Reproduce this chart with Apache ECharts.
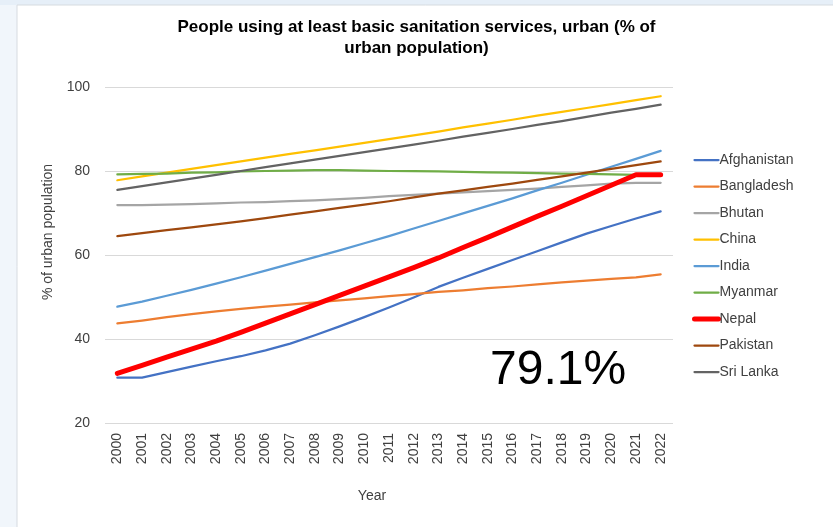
<!DOCTYPE html>
<html>
<head>
<meta charset="utf-8">
<script src="https://cdn.jsdelivr.net/npm/echarts@6/dist/echarts.min.js"></script>
<style>
  html, body { margin: 0; padding: 0; background: #f1f6fb; }
  #chart { width: 833px; height: 527px; }
</style>
</head>
<body>
<div id="chart"></div>
<script>
const years = ['2000','2001','2002','2003','2004','2005','2006','2007','2008','2009','2010','2011','2012','2013','2014','2015','2016','2017','2018','2019','2020','2021','2022'];
const yTicks = [20, 40, 60, 80, 100];

const afghanistan = [30.8,30.8,32.1,33.4,34.7,35.9,37.3,38.9,40.9,43.0,45.2,47.5,49.9,52.4,54.6,56.7,58.8,60.9,63.0,65.1,66.9,68.7,70.4];
const bangladesh  = [43.7,44.4,45.2,45.9,46.6,47.2,47.7,48.2,48.7,49.2,49.7,50.2,50.7,51.2,51.6,52.1,52.5,53.0,53.5,53.9,54.3,54.7,55.4];
const bhutan      = [71.9,71.9,72.0,72.1,72.3,72.5,72.6,72.8,73.0,73.3,73.6,74.0,74.3,74.6,74.9,75.2,75.5,75.8,76.2,76.6,77.0,77.2,77.2];
const china       = [77.8,78.7,79.6,80.5,81.4,82.3,83.2,84.1,84.9,85.8,86.7,87.6,88.5,89.4,90.4,91.3,92.2,93.2,94.1,95.0,95.9,96.9,97.8];
const india       = [47.7,48.9,50.3,51.7,53.2,54.7,56.3,57.9,59.5,61.1,62.8,64.5,66.3,68.1,69.9,71.7,73.5,75.4,77.2,79.1,81.0,82.9,84.8];
const myanmar     = [79.2,79.3,79.4,79.6,79.7,79.9,80.0,80.1,80.2,80.2,80.1,80.0,80.0,79.9,79.8,79.7,79.6,79.5,79.4,79.3,79.2,79.1,79.1];
const nepal       = [31.8,33.7,35.7,37.6,39.5,41.6,43.8,46.0,48.2,50.4,52.6,54.8,57.0,59.3,61.8,64.2,66.7,69.2,71.6,74.1,76.6,79.1,79.1];
const pakistan    = [64.5,65.2,65.9,66.6,67.3,68.0,68.8,69.6,70.4,71.2,72.0,72.8,73.7,74.6,75.4,76.2,77.0,77.9,78.7,79.6,80.5,81.4,82.3];
const sriLanka    = [75.5,76.4,77.3,78.2,79.1,80.0,80.9,81.8,82.7,83.6,84.5,85.4,86.3,87.2,88.2,89.1,90.0,91.0,91.9,92.9,93.9,94.8,95.8];

const seriesDefs = [
  ['Afghanistan', afghanistan, '#4472C4', 2.25],
  ['Bangladesh', bangladesh, '#ED7D31', 2.25],
  ['Bhutan', bhutan, '#A5A5A5', 2.25],
  ['China', china, '#FFC000', 2.25],
  ['India', india, '#5B9BD5', 2.25],
  ['Myanmar', myanmar, '#70AD47', 2.25],
  ['Nepal', nepal, '#FF0000', 5],
  ['Pakistan', pakistan, '#9E480E', 2.25],
  ['Sri Lanka', sriLanka, '#636363', 2.25]
];

const font = 'Liberation Sans, Arial, sans-serif';
const chart = echarts.init(document.getElementById('chart'), null, {renderer: 'canvas'});

chart.setOption({
  animation: false,
  backgroundColor: 'transparent',
  textStyle: { fontFamily: font },
  graphic: [
    { type: 'rect', z: -10, silent: true, shape: { x: 17, y: 5, width: 830, height: 540 },
      style: { fill: '#ffffff', stroke: '#d6dbe0', lineWidth: 1 } },
    { type: 'rect', z: -11, silent: true, shape: { x: 0, y: 0, width: 833, height: 5 },
      style: { fill: '#e6eff8' } },
    { type: 'text', left: 490, top: 347, z: 10,
      style: { text: '79.1%', fontSize: 48, fontFamily: font, fill: '#000000' } },
    { type: 'text', x: 48, y: 232, rotation: Math.PI / 2, z: 10,
      style: { text: '% of urban population', fontSize: 14, fontFamily: font, fill: '#404040',
               align: 'center', verticalAlign: 'middle' } },
    { type: 'text', x: 372, y: 496, z: 10,
      style: { text: 'Year', fontSize: 14, fontFamily: font, fill: '#404040',
               align: 'center', verticalAlign: 'middle' } }
  ],
  title: {
    text: 'People using at least basic sanitation services, urban (% of\nurban population)',
    left: 'center',
    top: 12,
    textStyle: { fontSize: 17, fontWeight: 'bold', color: '#000000', fontFamily: font, lineHeight: 21 }
  },
  legend: {
    orient: 'vertical',
    left: 687,
    top: 148,
    itemWidth: 24,
    itemHeight: 14,
    itemGap: 12.5,
    itemStyle: { opacity: 0 },
    textStyle: { fontSize: 14, color: '#404040', fontFamily: font, padding: [0, 0, 0, -4] },
    data: seriesDefs.map(d => ({ name: d[0], lineStyle: { width: d[3], cap: 'round' } }))
  },
  grid: { left: 105, right: 160, top: 87, bottom: 104 },
  xAxis: {
    type: 'category',
    data: years,
    boundaryGap: true,
    axisLine: { show: false },
    axisTick: { show: false },
    axisLabel: { rotate: 90, fontSize: 14, color: '#404040', margin: 10, interval: 0, fontFamily: font }
  },
  yAxis: {
    type: 'value',
    min: yTicks[0],
    max: yTicks[yTicks.length - 1],
    interval: 20,
    axisLine: { show: false },
    axisTick: { show: false },
    axisLabel: { fontSize: 14, color: '#404040', margin: 15, fontFamily: font },
    splitLine: { lineStyle: { color: '#d9d9d9', width: 1 } }
  },
  series: seriesDefs.map(d => ({
    name: d[0],
    type: 'line',
    data: d[1],
    symbol: 'none',
    smooth: false,
    z: d[0] === 'Nepal' ? 5 : 2,
    itemStyle: { color: d[2] },
    lineStyle: { color: d[2], width: d[3], cap: 'round', join: 'round' }
  }))
});
</script>
</body>
</html>
